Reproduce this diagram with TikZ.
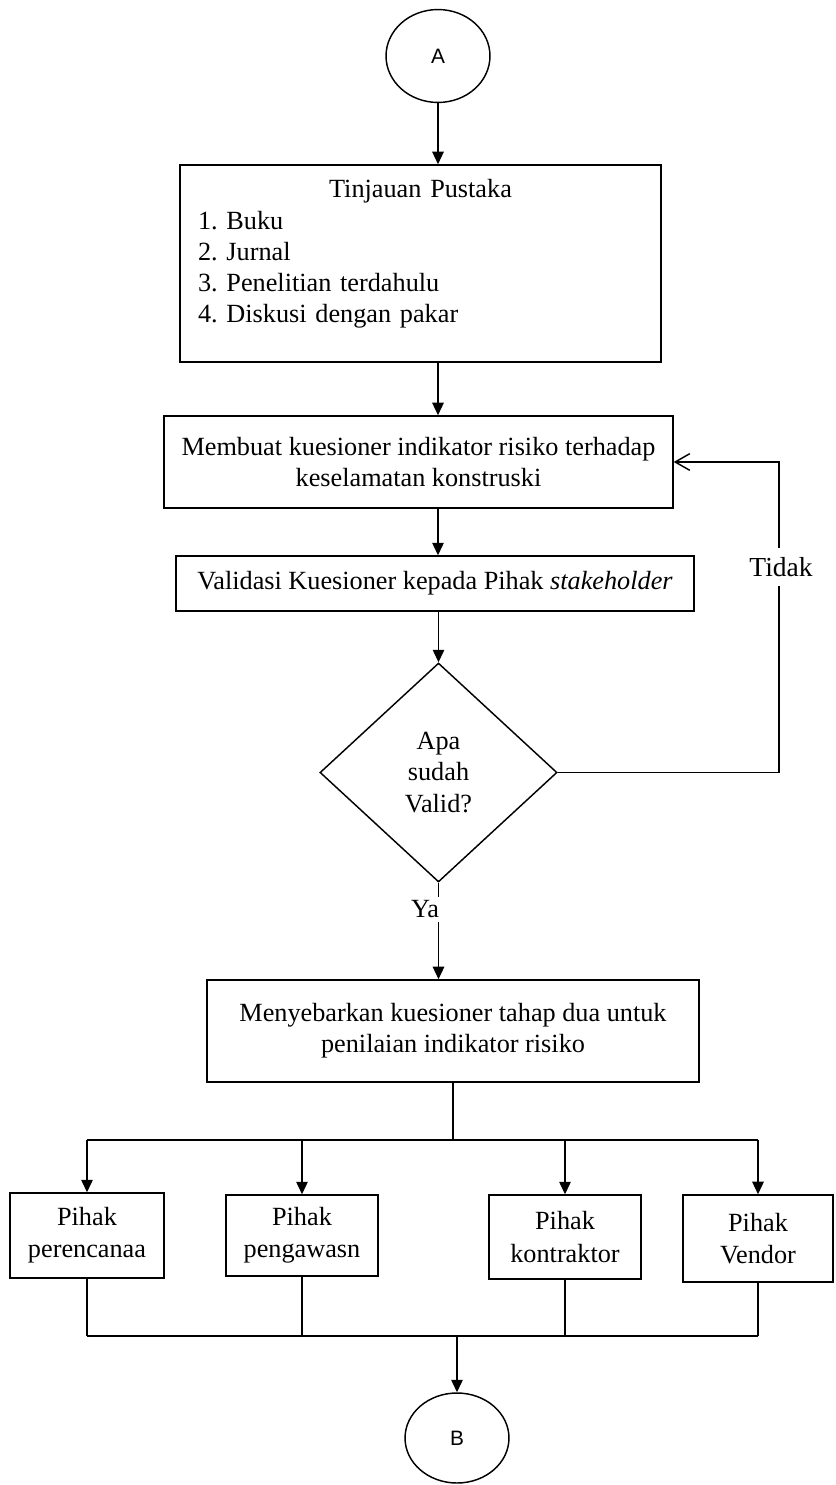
\documentclass[tikz,border=0pt]{standalone}
\usepackage{fontspec}
\setmainfont{Liberation Serif}
\newfontfamily\connfont{Liberation Sans}
\usetikzlibrary{shapes.geometric,arrows.meta}
\frenchspacing

\begin{document}
\begin{tikzpicture}[
    x=0.48pt, y=-0.48pt,
    font=\fontsize{12.6}{15}\selectfont,
    line width=0.7pt,
    box/.style={draw, rectangle, inner sep=2pt, align=center},
    pihak/.style={box, font=\fontsize{12.6}{15.4}\selectfont},
    connector/.style={draw, ellipse, minimum width=49.9pt, font=\connfont\fontsize{10}{12}\selectfont},
    decision/.style={draw, diamond, inner sep=0pt, minimum width=113.8pt, minimum height=105.1pt, align=center},
    arrow/.style={-{Triangle[length=6pt,width=5.5pt]}},
    back/.style={-{Straight Barb[length=7pt,width=8pt]}},
    lbl/.style={fill=white, inner xsep=1pt}
]
    \useasboundingbox (0,0) rectangle (835,1485);

    \node[connector, minimum height=44.6pt] (A) at (438,56) {A};
    \node[box, minimum width=230.9pt, minimum height=94.6pt] (tinjau) at (420.5,263.5) {};
    \node[anchor=north, inner sep=0pt, text width=213.6pt, align=left] (tinjaulist) at (420.5,179)
        {\hfill Tinjauan Pustaka\hfill\null\\1. Buku\\2. Jurnal\\3. Penelitian terdahulu\\4. Diskusi dengan pakar};
    \node[box, minimum width=244.3pt, minimum height=44.2pt] (buat) at (418.5,462)
        {Membuat kuesioner indikator risiko terhadap\\keselamatan konstruski};
    \node[box, minimum width=248.6pt, minimum height=26.4pt] (validasi) at (435,583.5)
        {Validasi Kuesioner kepada Pihak \textit{stakeholder}};
    \node[decision] (cek) at (438.5,772.5) {Apa\\sudah\\Valid?};
    \node[box, minimum width=236.2pt, minimum height=49pt] (sebar) at (453,1031)
        {Menyebarkan kuesioner tahap dua untuk\\penilaian indikator risiko};

    \node[pihak, minimum width=73.9pt, minimum height=40.8pt] (perencana) at (87,1235.5) {Pihak\\perencanaa};
    \node[pihak, minimum width=73pt, minimum height=38.9pt] (pengawas) at (302,1235.5) {Pihak\\pengawasn};
    \node[pihak, minimum width=73pt, minimum height=40.3pt] (kontraktor) at (565,1237) {Pihak\\kontraktor};
    \node[pihak, minimum width=72pt, minimum height=41.8pt] (vendor) at (758,1238.5) {Pihak\\Vendor};
    \node[connector, minimum height=43.2pt] (B) at (457,1438) {B};

    \coordinate (loop) at (779,462);
    \coordinate (split) at (0,1140);
    \coordinate (join) at (0,1336);

    \draw[arrow] (A) -- (A |- tinjau.north);
    \draw[arrow] (A |- tinjau.south) -- (A |- buat.north);
    \draw[arrow] (A |- buat.south) -- (A |- validasi.north);
    \draw[arrow] (cek.north |- validasi.south) -- (cek.north);

    % kembali jika belum valid
    \draw[back] (cek.east) -| (loop) -- (buat.east);
    \node[lbl, inner ysep=4.6pt, font=\fontsize{13.2}{15}\selectfont] (tidak) at (781,567) {Tidak};

    \draw[arrow] (cek.south) -- (cek.south |- sebar.north);
    \node[lbl, inner ysep=2pt] (ya) at (425,909.5) {Ya};

    \draw (sebar.south) -- (sebar.south |- split);
    \draw (perencana.north |- split) -- (vendor.north |- split);
    \foreach \p in {perencana,pengawas,kontraktor,vendor}
        \draw[arrow] (\p.north |- split) -- (\p.north);
    \foreach \p in {perencana,pengawas,kontraktor,vendor}
        \draw (\p.south) -- (\p.south |- join);
    \draw (perencana.south |- join) -- (vendor.south |- join);
    \draw[arrow] (B |- join) -- (B);
\end{tikzpicture}
\end{document}
